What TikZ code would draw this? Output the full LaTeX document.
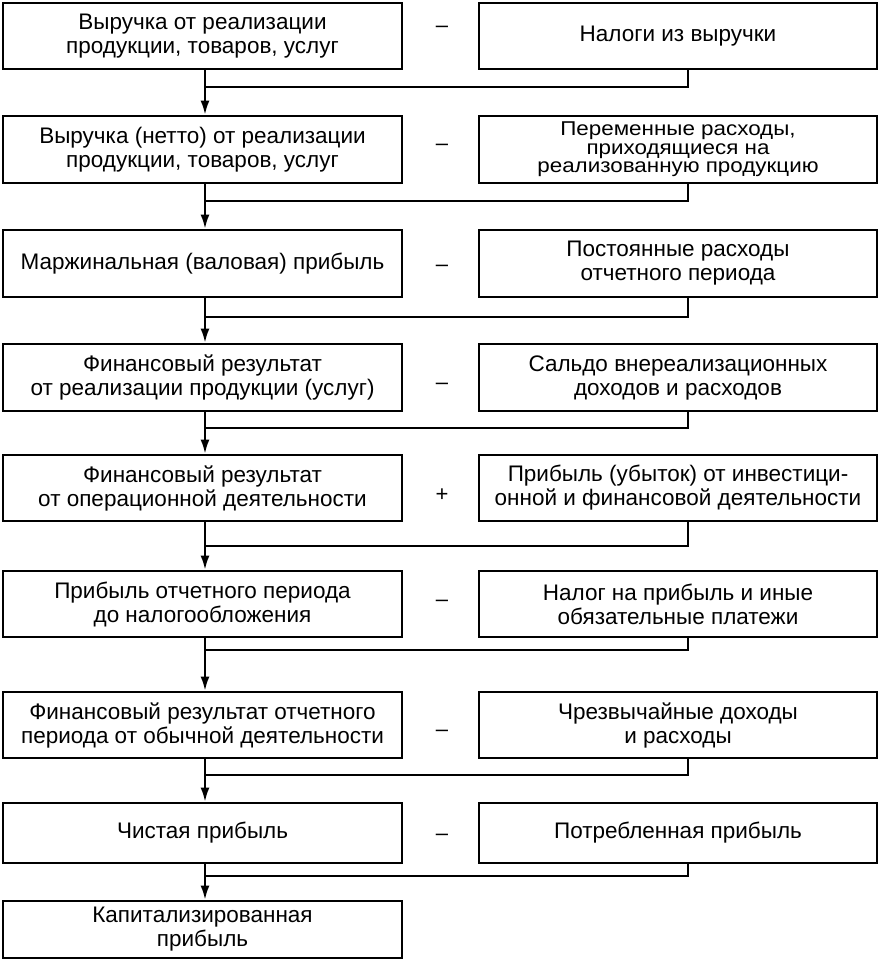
\documentclass[tikz,border=0pt]{standalone}
\usepackage{fontspec}
\setmainfont{Liberation Sans}
\newfontfamily\widesans[FakeStretch=1.12]{Liberation Sans}
\usetikzlibrary{arrows.meta}
\begin{document}
\begin{tikzpicture}[x=1pt,y=-1pt,
  txt/.style={font=\fontsize{22.5}{24}\selectfont},
  lbox/.style={draw, line width=2.8pt, inner sep=0pt, align=center, txt, minimum width=399pt},
  rbox/.style={draw, line width=2.8pt, inner sep=0pt, align=center, txt, minimum width=398pt},
  sign/.style={font=\fontsize{22}{24}\selectfont, inner sep=0pt},
  conn/.style={line width=2pt},
  arr/.style={line width=2pt, -{Latex[length=14pt,width=9pt]}}]
\useasboundingbox (0,0) rectangle (879,961);
\coordinate (V) at (205,0);
\coordinate (W) at (688,0);
% row 1
\node[lbox, minimum height=66pt] (L1) at (202.5,36) {Выручка от реализации\\продукции, товаров, услуг};
\node[rbox, minimum height=66pt] (R1) at (678,36) {Налоги из выручки};
\node[sign] (S1) at (442,29) {–};
% row 2
\node[lbox, minimum height=67pt] (L2) at (202.5,149.5) {Выручка (нетто) от реализации\\продукции, товаров, услуг};
\node[rbox, minimum height=67pt, font=\widesans\fontsize{20}{18.5}\selectfont] (R2) at (678,149.5) {Переменные расходы,\\приходящиеся на\\реализованную продукцию};
\node[sign] (S2) at (442,147) {–};
% row 3
\node[lbox, minimum height=67pt] (L3) at (202.5,263.5) {Маржинальная (валовая) прибыль};
\node[rbox, minimum height=67pt] (R3) at (678,263.5) {Постоянные расходы\\отчетного периода};
\node[sign] (S3) at (442,268) {–};
% row 4
\node[lbox, minimum height=67pt] (L4) at (202.5,377.5) {Финансовый результат\\от реализации продукции (услуг)};
\node[rbox, minimum height=67pt] (R4) at (678,377.5) {Сальдо внереализационных\\доходов и расходов};
\node[sign] (S4) at (442,386) {–};
% row 5
\node[lbox, minimum height=66pt] (L5) at (202.5,488) {Финансовый результат\\от операционной деятельности};
\node[rbox, minimum height=66pt] (R5) at (678,488) {Прибыль (убыток) от инвестици-\\онной и финансовой деятельности};
\node[sign] (S5) at (442,495) {+};
% row 6
\node[lbox, minimum height=66pt] (L6) at (202.5,604) {Прибыль отчетного периода\\до налогообложения};
\node[rbox, minimum height=66pt] (R6) at (678,604) {Налог на прибыль и иные\\обязательные платежи};
\node[sign] (S6) at (442,603) {–};
% row 7
\node[lbox, minimum height=66pt] (L7) at (202.5,725) {Финансовый результат отчетного\\периода от обычной деятельности};
\node[rbox, minimum height=66pt] (R7) at (678,725) {Чрезвычайные доходы\\и расходы};
\node[sign] (S7) at (442,733) {–};
% row 8
\node[lbox, minimum height=60pt] (L8) at (202.5,833) {Чистая прибыль};
\node[rbox, minimum height=60pt] (R8) at (678,833) {Потребленная прибыль};
\node[sign] (S8) at (442,837) {–};
% row 9
\node[lbox, minimum height=57pt] (L9) at (202.5,929.5) {Капитализированная\\прибыль};
% junction levels
\coordinate (H1) at (0,87);
\coordinate (H2) at (0,201);
\coordinate (H3) at (0,317);
\coordinate (H4) at (0,428);
\coordinate (H5) at (0,546);
\coordinate (H6) at (0,650);
\coordinate (H7) at (0,775);
\coordinate (H8) at (0,876);
% connectors
\foreach \i/\j in {1/2,2/3,3/4,4/5,5/6,6/7,7/8,8/9}{
  \draw[arr] (V |- L\i.south) -- (V |- L\j.north);
  \draw[conn] (W |- R\i.south) |- (V |- H\i);
}
\end{tikzpicture}
\end{document}
